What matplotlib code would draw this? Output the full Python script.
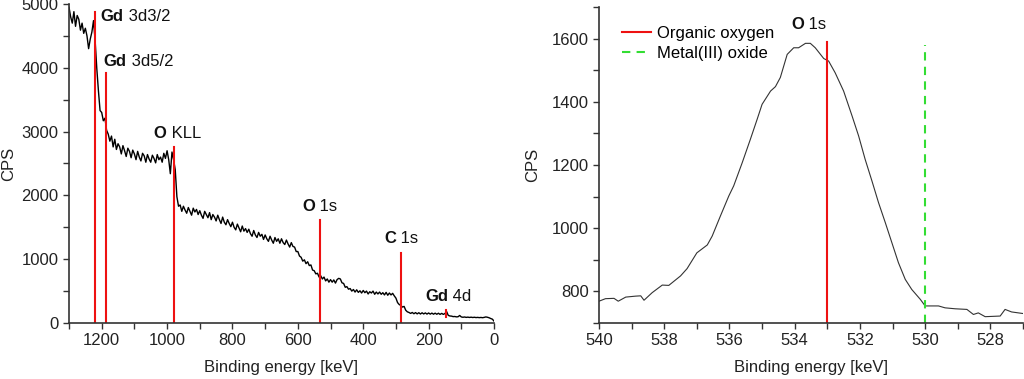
import numpy as np
import matplotlib
matplotlib.use("Agg")
import matplotlib.pyplot as plt
from matplotlib.ticker import MultipleLocator

plt.rcParams['font.family'] = ['Liberation Sans', 'DejaVu Sans']

# ---------------- Survey spectrum (left) ----------------
survey_energy = np.arange(1300, -1, -5)
survey_cps = [
    4950, 4800, 4700, 4880, 4650, 4820, 4760, 4590, 4700, 4540,
    4620, 4500, 4300, 4450, 4560, 4740, 4420, 3990, 3640, 3330,
    3300, 3170, 3210, 3020, 2960, 2850, 2930, 2760, 2880, 2720,
    2810, 2760, 2650, 2780, 2700, 2610, 2740, 2690, 2590, 2710,
    2650, 2560, 2690, 2600, 2540, 2660, 2620, 2520, 2640, 2570,
    2520, 2630, 2580, 2510, 2640, 2560, 2600, 2520, 2660, 2580,
    2700, 2560, 2340, 2680, 2560, 2400, 1980, 1830, 1850, 1750,
    1830, 1770, 1720, 1810, 1750, 1690, 1800, 1740, 1780, 1700,
    1760, 1690, 1640, 1750, 1700, 1650, 1730, 1620, 1700, 1660,
    1600, 1690, 1620, 1560, 1660, 1580, 1540, 1620, 1560, 1510,
    1580, 1500, 1460, 1550, 1490, 1430, 1520, 1440, 1480, 1420,
    1470, 1400, 1360, 1450, 1380, 1340, 1420, 1360, 1390, 1310,
    1380, 1320, 1280, 1360, 1300, 1250, 1340, 1280, 1320, 1250,
    1320, 1260, 1230, 1300, 1240, 1190, 1260, 1200, 1190, 1120,
    1120, 1050, 1030, 970, 990, 930, 960, 900, 910, 830,
    820, 770, 780, 720, 740, 690, 720, 660, 690, 640,
    680, 640, 675, 625, 680, 700, 690, 630, 620, 560,
    570, 530, 540, 500, 525, 485, 520, 480, 505, 470,
    510, 475, 500, 455, 490, 470, 500, 450, 485, 455,
    485, 450, 475, 440, 480, 435, 470, 440, 465, 425,
    390, 320, 290, 275, 250, 260, 200, 175, 165, 150,
    165, 145, 163, 143, 161, 141, 160, 142, 158, 140,
    157, 139, 155, 138, 154, 137, 153, 135, 151, 135,
    148, 180, 120, 110, 108, 100, 102, 96, 98, 118,
    95, 90, 94, 88, 92, 87, 91, 86, 90, 85,
    88, 84, 87, 83, 88, 95, 90, 82, 70, 60,
    30,
]

peak_names_bold = ["Gd", "Gd", "O", "O", "C", "Gd"]
peak_names_rest = [" 3d3/2", " 3d5/2", " KLL", " 1s", " 1s", " 4d"]
peak_energy = [1220, 1188, 978, 531, 283, 147]
peak_top = [4874, 3911, 2753, 1621, 1095, 211]
peak_bottom = [0, 0, 0, 0, 0, 100]
label_x = [1203, 1194, 1041, 586, 336, 211]
label_y = [4807, 4097, 2975, 1822, 1332, 416]

# ---------------- O 1s detail (right) ----------------
o1s_energy = [540.0, 539.8, 539.54, 539.41, 539.18, 538.88, 538.72, 538.62, 538.37,
              538.06, 537.86, 537.5, 537.3, 537.0, 536.68, 536.53, 536.28, 536.02,
              535.87, 535.61, 535.36, 535.15, 535.0, 534.74, 534.59, 534.44, 534.23,
              534.03, 533.88, 533.67, 533.52, 533.37, 533.11, 532.96, 532.76, 532.5,
              532.24, 532.04, 531.84, 531.63, 531.43, 531.22, 531.02, 530.82, 530.61,
              530.41, 530.15, 530.0, 529.59, 529.39, 529.08, 528.72, 528.52, 528.37,
              528.16, 527.7, 527.55, 527.35, 527.0]
o1s_cps = [769, 777, 778, 769, 782, 785, 786, 772, 796,
           820, 819, 849, 872, 922, 947, 975, 1038, 1102,
           1134, 1207, 1281, 1345, 1392, 1434, 1448, 1477, 1550,
           1571, 1571, 1585, 1585, 1571, 1537, 1529, 1492, 1434,
           1355, 1292, 1218, 1149, 1081, 1017, 954, 891, 838,
           806, 775, 754, 754, 748, 745, 743, 727, 732,
           720, 722, 743, 735, 730]

ref_labels = ["Organic oxygen", "Metal(III) oxide"]
ref_energy = [533.0, 530.0]
ref_top = [1590, 1580]

fig = plt.figure(figsize=(10.24, 3.79), dpi=100)
H = 379.0
W = 1024.0
ax1 = fig.add_axes([69 / W, 1 - 323 / H, (494 - 69) / W, (323 - 4) / H])
ax2 = fig.add_axes([599 / W, 1 - 323 / H, (1023 - 599) / W, (323 - 7) / H])

tick_col = '#222222'
FS = 12
for ax in (ax1, ax2):
    ax.spines['top'].set_visible(False)
    ax.spines['right'].set_visible(False)
    for s in ('left', 'bottom'):
        ax.spines[s].set_color('#333333')
        ax.spines[s].set_linewidth(1.2)
    ax.tick_params(which='both', direction='out', length=4, width=1.0,
                   color='#333333', labelsize=FS, labelcolor=tick_col)

# left
ax1.plot(survey_energy, survey_cps, color='black', lw=1.0)
for e, t, b in zip(peak_energy, peak_top, peak_bottom):
    ax1.plot([e, e], [b, t], color='#ee1111', lw=1.5)
for nb, nr, x, y in zip(peak_names_bold, peak_names_rest, label_x, label_y):
    t = ax1.text(x, y, nb, fontsize=FS, fontweight='bold', ha='left', va='center',
                 color='#111111')
    ax1.annotate(nr, xy=(1, 0), xycoords=t, ha='left', va='bottom', fontsize=FS,
                 color='#111111')
ax1.set_xlim(1300, 0)
ax1.set_ylim(0, 5000)
ax1.xaxis.set_major_locator(MultipleLocator(200))
ax1.xaxis.set_minor_locator(MultipleLocator(100))
ax1.yaxis.set_major_locator(MultipleLocator(1000))
ax1.yaxis.set_minor_locator(MultipleLocator(500))
ax1.set_xlabel("Binding energy [keV]", fontsize=FS, color='#222222', labelpad=8)
ax1.set_ylabel("CPS", fontsize=FS, color='#222222', labelpad=4)

# right
ax2.plot(o1s_energy, o1s_cps, color='#333333', lw=0.8)
ax2.plot([ref_energy[0]] * 2, [700, ref_top[0]], color='#ee1111', lw=1.5,
         label=ref_labels[0])
ax2.plot([ref_energy[1]] * 2, [700, ref_top[1]], color='#33dd33', lw=1.5,
         linestyle=(0, (4, 3)), label=ref_labels[1])
t2 = ax2.text(534.11, 1646, "O", fontsize=FS, fontweight='bold', ha='left',
              va='center', color='#111111')
ax2.annotate(" 1s", xy=(1, 0), xycoords=t2, ha='left', va='bottom', fontsize=FS,
             color='#111111')
ax2.set_xlim(540, 527)
ax2.set_ylim(700, 1700)
ax2.xaxis.set_major_locator(MultipleLocator(2))
ax2.xaxis.set_minor_locator(MultipleLocator(1))
ax2.yaxis.set_minor_locator(MultipleLocator(100))
ax2.set_yticks([800, 1000, 1200, 1400, 1600])
ax2.set_xlabel("Binding energy [keV]", fontsize=FS, color='#222222', labelpad=8)
ax2.set_ylabel("CPS", fontsize=FS, color='#222222', labelpad=8)
ax2.legend(loc='upper left', bbox_to_anchor=(0.027, 0.978), frameon=False,
           fontsize=FS, handlelength=1.75, handletextpad=0.36, labelspacing=0.3,
           borderaxespad=0.3)

fig.savefig("out.png", dpi=100)
